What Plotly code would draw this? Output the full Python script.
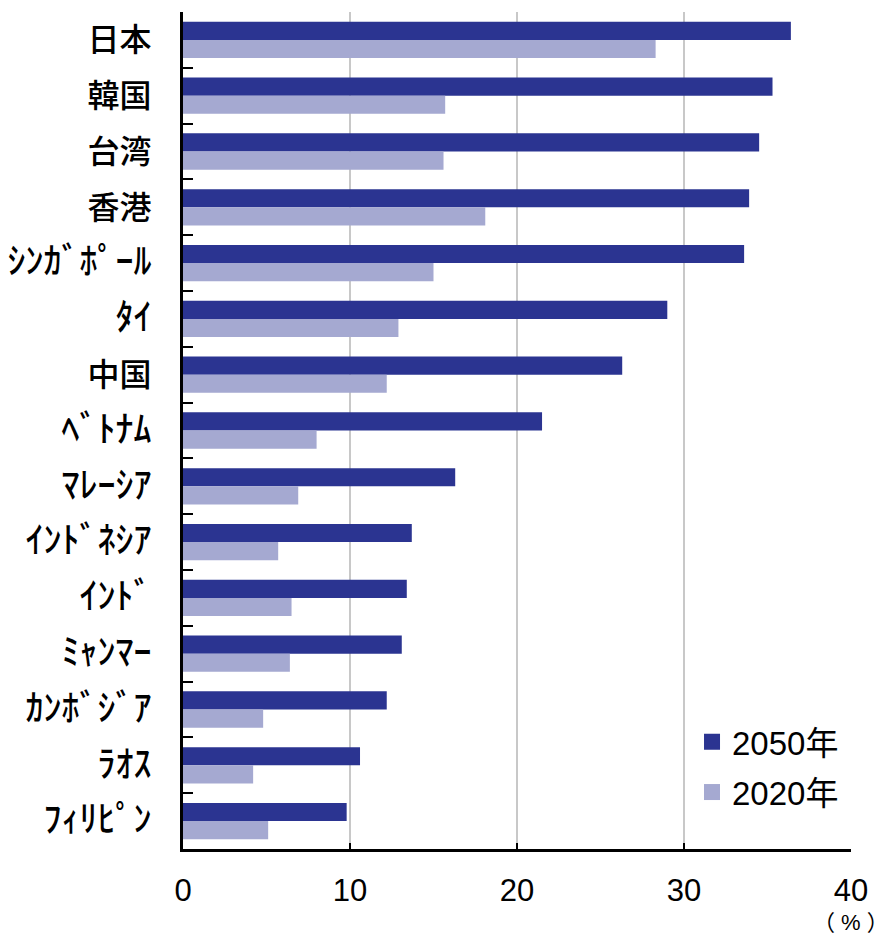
import plotly.graph_objects as go

# Share of population aged 65+ (%), by economy
countries = ["日本", "韓国", "台湾", "香港", "ｼﾝｶﾞﾎﾟｰﾙ", "ﾀｲ", "中国", "ﾍﾞﾄﾅﾑ",
             "ﾏﾚｰｼｱ", "ｲﾝﾄﾞﾈｼｱ", "ｲﾝﾄﾞ", "ﾐｬﾝﾏｰ", "ｶﾝﾎﾞｼﾞｱ", "ﾗｵｽ", "ﾌｨﾘﾋﾟﾝ"]
share_2050 = [36.4, 35.3, 34.5, 33.9, 33.6, 29.0, 26.3, 21.5, 16.3, 13.7, 13.4, 13.1, 12.2, 10.6, 9.8]
share_2020 = [28.3, 15.7, 15.6, 18.1, 15.0, 12.9, 12.2, 8.0, 6.9, 5.7, 6.5, 6.4, 4.8, 4.2, 5.1]
x_ticks = [0, 10, 20, 30, 40]

DARK = "#2B3491"
LIGHT = "#A5A9D1"
FONT = "Liberation Sans, Arial, Noto Sans CJK JP, sans-serif"


def is_halfwidth_kana(s):
    return all(0xFF61 <= ord(c) <= 0xFF9F for c in s)


# half-width katakana names are set larger than the kanji names
category_text = [
    f"<span style='font-size:36px;font-weight:500'>{c}</span>" if is_halfwidth_kana(c)
    else f"<span style='font-weight:500'>{c}</span>"
    for c in countries
]

fig = go.Figure()
fig.add_trace(go.Bar(y=countries, x=share_2050, orientation="h", name="2050年",
                     marker=dict(color=DARK, line=dict(width=0)), showlegend=False))
fig.add_trace(go.Bar(y=countries, x=share_2020, orientation="h", name="2020年",
                     marker=dict(color=LIGHT, line=dict(width=0)), showlegend=False))

# legend keys: square swatches in the bar colours
for name, color, lg in [("2050年", DARK, "legend"), ("2020年", LIGHT, "legend2")]:
    fig.add_trace(go.Scatter(x=[None], y=[None], mode="markers", name=name,
                             marker=dict(symbol="square", size=16, color=color),
                             legend=lg, showlegend=True, hoverinfo="skip"))

legend_style = dict(font=dict(size=33, color="black", family=FONT),
                    bgcolor="rgba(0,0,0,0)", xanchor="left", yanchor="middle",
                    itemwidth=30, itemsizing="trace", tracegroupgap=0, visible=True)

fig.update_layout(
    width=890, height=939,
    margin=dict(l=183, r=39, t=12, b=90),
    plot_bgcolor="white", paper_bgcolor="white",
    showlegend=True,
    barmode="group", bargap=0.35, bargroupgap=0,
    font=dict(family=FONT, color="black"),
    legend=dict(x=0.762, y=0.128, **legend_style),
    legend2=dict(x=0.762, y=0.068, **legend_style),
    xaxis=dict(range=[0, 40], tickvals=x_ticks, ticktext=[str(v) for v in x_ticks],
               showgrid=True, gridcolor="#C8C8C8", gridwidth=2,
               showline=True, linecolor="black", linewidth=3,
               ticks="inside", ticklen=6, tickwidth=2, tickcolor="black",
               tickfont=dict(size=31, family=FONT), ticklabelstandoff=12,
               zeroline=False, automargin=False),
    yaxis=dict(range=[14.5, -0.5], tickson="boundaries",
               tickvals=countries, ticktext=category_text,
               showline=True, linecolor="black", linewidth=3,
               ticks="inside", ticklen=10, tickwidth=2, tickcolor="black",
               tickfont=dict(size=32, family="Noto Sans CJK JP, sans-serif"),
               ticklabelstandoff=22, showgrid=False, automargin=False),
)

fig.add_annotation(text="（ % ）", xref="x", yref="paper", x=40, y=-0.088,
                   showarrow=False, font=dict(size=22, family=FONT),
                   xanchor="center", yanchor="middle")

fig.write_html("out.html")
